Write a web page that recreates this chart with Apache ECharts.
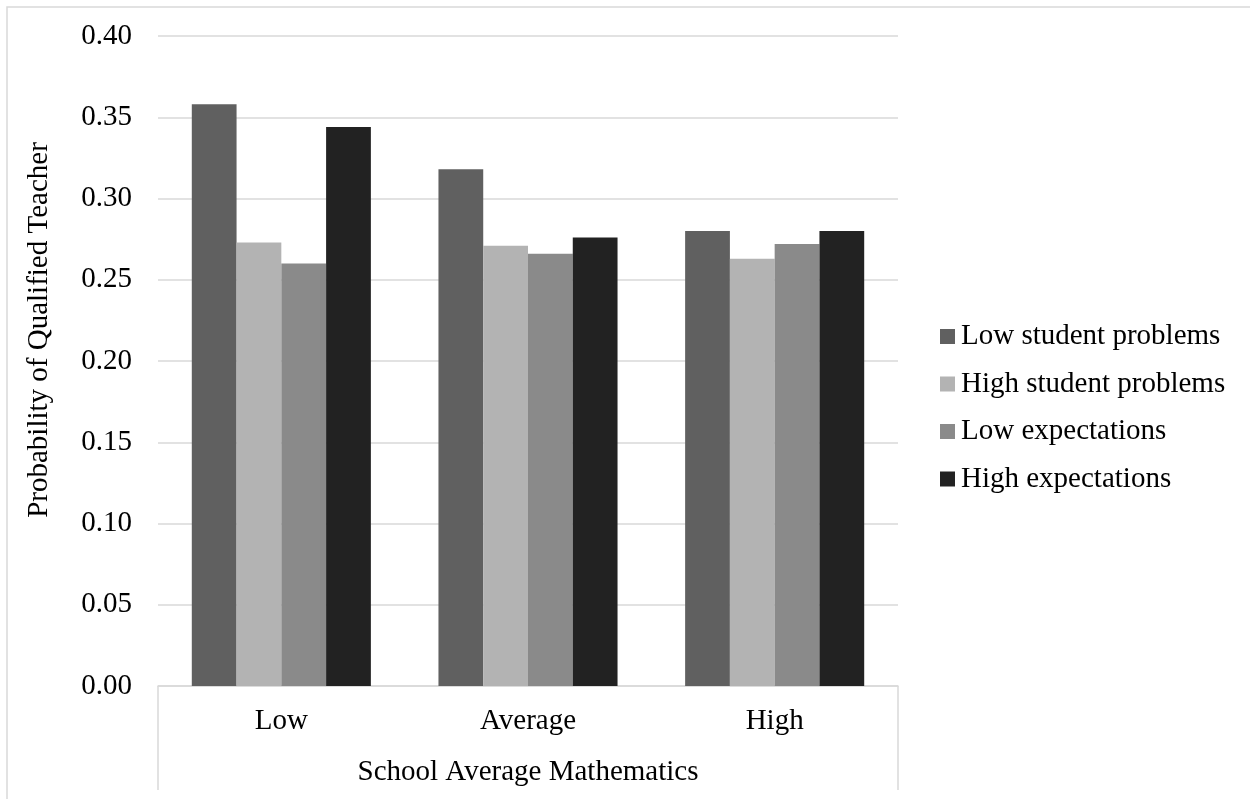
<!DOCTYPE html>
<html>
<head>
<meta charset="utf-8">
<script src="https://cdn.jsdelivr.net/npm/echarts@6/dist/echarts.min.js"></script>
<style>html,body{margin:0;padding:0;background:#fff}#c{width:1250px;height:799px}</style>
</head>
<body>
<div id="c"></div>
<script>
const categories = ['Low', 'Average', 'High'];
const seriesNames = ['Low student problems', 'High student problems', 'Low expectations', 'High expectations'];
const lowStudentProblems = [0.358, 0.318, 0.280];
const highStudentProblems = [0.273, 0.271, 0.263];
const lowExpectations = [0.260, 0.266, 0.272];
const highExpectations = [0.344, 0.276, 0.280];
const yTicks = [0, 0.05, 0.10, 0.15, 0.20, 0.25, 0.30, 0.35, 0.40];
const colors = ['#606060', '#b3b3b3', '#8a8a8a', '#222222'];
const FONT = '"Liberation Serif", "Times New Roman", serif';

const values = [lowStudentProblems, highStudentProblems, lowExpectations, highExpectations];
const chart = echarts.init(document.getElementById('c'), null, {renderer: 'canvas'});
const gridLeft = 158, gridRight = 352, gridTop = 36, gridBottom = 113;
chart.setOption({
  animation: false,
  backgroundColor: '#fff',
  textStyle: {fontFamily: FONT},
  grid: {left: gridLeft, right: gridRight, top: gridTop, bottom: gridBottom, containLabel: false},
  legend: {
    orient: 'vertical', left: 935, top: 317,
    itemWidth: 15, itemHeight: 15, itemGap: 18.5,
    icon: 'rect',
    data: seriesNames,
    textStyle: {fontFamily: FONT, fontSize: 29, color: '#000', lineHeight: 29, padding: [0,0,0,1]}
  },
  xAxis: {
    type: 'category', data: categories,
    axisLine: {show: true, lineStyle: {color: '#d9d9d9', width: 1.5}},
    axisTick: {show: false},
    axisLabel: {fontFamily: FONT, fontSize: 29, color: '#000', margin: 21},
    name: 'School Average Mathematics', nameLocation: 'middle', nameGap: 72,
    nameTextStyle: {fontFamily: FONT, fontSize: 29, color: '#000'}
  },
  yAxis: {
    type: 'value', min: yTicks[0], max: yTicks[yTicks.length - 1], interval: 0.05,
    axisLine: {show: false}, axisTick: {show: false},
    axisLabel: {fontFamily: FONT, fontSize: 29, color: '#000', margin: 26, formatter: v => v.toFixed(2)},
    splitLine: {lineStyle: {color: '#d9d9d9', width: 1.5}},
    name: 'Probability of Qualified Teacher', nameLocation: 'middle', nameGap: 104, nameRotate: 90,
    nameTextStyle: {fontFamily: FONT, fontSize: 29, color: '#000', padding: [0, 0, 0, 62]}
  },
  series: seriesNames.map((n, i) => ({
    name: n, type: 'bar', data: values[i],
    barGap: '0%', barCategoryGap: '27.4%',
    itemStyle: {color: colors[i]}
  })),
  graphic: [
    {type: 'rect', shape: {x: 7, y: 7, width: 1300, height: 900}, style: {fill: 'none', stroke: '#d9d9d9', lineWidth: 1.5}, silent: true},
    {type: 'line', shape: {x1: gridLeft, y1: 799 - gridBottom, x2: gridLeft, y2: 790}, style: {stroke: '#d9d9d9', lineWidth: 1.5}, silent: true},
    {type: 'line', shape: {x1: 1250 - gridRight, y1: 799 - gridBottom, x2: 1250 - gridRight, y2: 790}, style: {stroke: '#d9d9d9', lineWidth: 1.5}, silent: true}
  ]
});
</script>
</body>
</html>
